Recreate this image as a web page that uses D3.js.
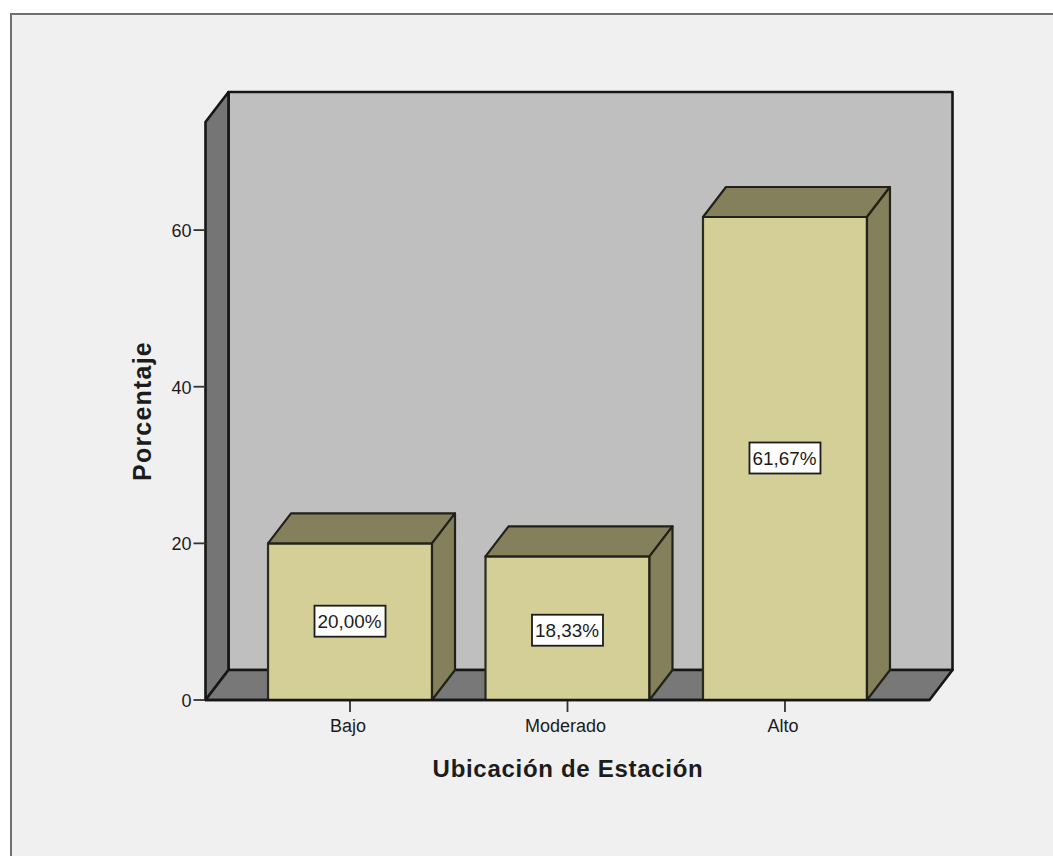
<!DOCTYPE html>
<html><head><meta charset="utf-8">
<script src="https://cdnjs.cloudflare.com/ajax/libs/d3/7.8.5/d3.min.js"></script>
<style>html,body{margin:0;padding:0;background:#fff}svg{display:block}text{font-family:"Liberation Sans",Arial,sans-serif;fill:#1c1c1c}</style>
</head><body><svg id="c" width="1053" height="856"></svg>
<script>
const categories = ["Bajo","Moderado","Alto"];
const values = [20.00,18.33,61.67];
const valueLabels = ["20,00%","18,33%","61,67%"];
const yTicks = [0,20,40,60];
const xTitle = "Ubicación de Estación";
const yTitle = "Porcentaje";

const svg = d3.select("#c");
svg.append("rect").attr("x",11).attr("y",14).attr("width",1050).attr("height",850)
  .attr("fill","#f0f0f0").attr("stroke","#707070").attr("stroke-width",2);

const x = d3.scaleBand().domain(categories).range([205.5,929.5]).paddingInner(0.246).paddingOuter(0.2875);
const y = d3.scaleLinear().domain([0,73.8]).range([700,122]);
const dx = 23, dy = -30;
const L = x.range()[0], R = x.range()[1], B = y(0), T = y(y.domain()[1]);
const line = "#161616";
const poly = (pts,fill,sw=2.6)=>svg.append("path").attr("d","M"+pts.map(p=>p.join(",")).join("L")+"Z")
  .attr("fill",fill).attr("stroke",line).attr("stroke-width",sw).attr("stroke-linejoin","round");

// back wall, side wall, floor
poly([[L+dx,T+dy],[R+dx,T+dy],[R+dx,B+dy],[L+dx,B+dy]],"#bfbfbf");
poly([[L,T],[L+dx,T+dy],[L+dx,B+dy],[L,B]],"#757575");
poly([[L,B],[L+dx,B+dy],[R+dx,B+dy],[R,B]],"#787878");

// y axis
yTicks.forEach(t=>{
  svg.append("line").attr("x1",L-12).attr("x2",L).attr("y1",y(t)).attr("y2",y(t)).attr("stroke","#333").attr("stroke-width",1.8);
  svg.append("text").attr("x",L-14).attr("y",y(t)+7).attr("text-anchor","end").attr("font-size",18).text(t);
});

// bars
categories.forEach((c,i)=>{
  const x0=x(c), x1=x0+x.bandwidth(), yt=y(values[i]);
  const sw=2.2;
  poly([[x0,yt],[x1,yt],[x1,B],[x0,B]],"#d3cf97",sw).attr("stroke","#2b2b1e");
  poly([[x0,yt],[x0+dx,yt+dy],[x1+dx,yt+dy],[x1,yt]],"#84805c",sw).attr("stroke","#22221a");
  poly([[x1,yt],[x1+dx,yt+dy],[x1+dx,B+dy],[x1,B]],"#84805c",sw).attr("stroke","#22221a");
  const cx=(x0+x1)/2, cy=y(values[i]/2)+(i===1?2.5:0);
  svg.append("rect").attr("x",cx-35.5).attr("y",cy-16).attr("width",71).attr("height",31)
    .attr("fill","#fff").attr("stroke","#1c1c1c").attr("stroke-width",1.8);
  svg.append("text").attr("x",cx-0.5).attr("y",cy+6.5).attr("text-anchor","middle").attr("font-size",19).attr("textLength",64).attr("lengthAdjust","spacingAndGlyphs").text(valueLabels[i]);
  svg.append("line").attr("x1",cx).attr("x2",cx).attr("y1",B).attr("y2",B+12).attr("stroke","#333").attr("stroke-width",1.8);
  svg.append("text").attr("x",cx-2).attr("y",732).attr("text-anchor","middle").attr("font-size",18).text(c);
});
svg.append("line").attr("x1",L).attr("x2",R).attr("y1",B).attr("y2",B).attr("stroke",line).attr("stroke-width",2.6);

svg.append("text").attr("x",568).attr("y",777).attr("text-anchor","middle").attr("font-size",24).attr("font-weight","bold").attr("letter-spacing",0.7).text(xTitle);
svg.append("text").attr("transform","translate(151,411) rotate(-90)").attr("text-anchor","middle").attr("font-size",25).attr("font-weight","bold").attr("letter-spacing",1.2).text(yTitle);
</script></body></html>
